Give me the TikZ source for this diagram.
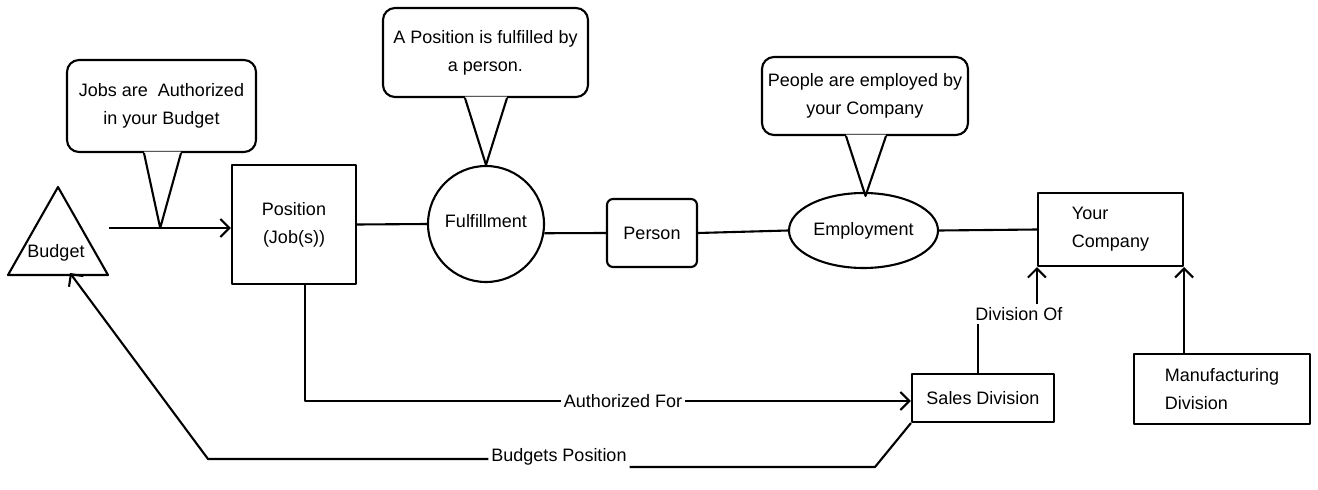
\documentclass[tikz,border=0pt]{standalone}
\usepackage{fontspec}
\setmainfont{Liberation Sans}
\usetikzlibrary{arrows.meta,shapes.geometric,calc}
\begin{document}
\begin{tikzpicture}[x=1pt,y=-1pt,line width=2.1pt,line join=round,
  every node/.style={font=\fontsize{18}{28}\selectfont,text=black},
  box/.style={draw,rectangle,inner sep=0pt,align=center},
  bubble/.style={draw,rectangle,rounded corners=12pt,inner sep=0pt,align=center,fill=white},
  lbl/.style={fill=white,inner sep=2pt},
  arr/.style={-{Straight Barb[length=9pt,width=18pt]}}]
\useasboundingbox (0,0) rectangle (1318,490);

% budget triangle
\coordinate (tA) at (58,187);
\coordinate (tL) at (8,275);
\coordinate (tR) at (108,275);
\draw (tA) -- (tL) -- (tR) -- cycle;
\node (bud) at (56,253) {Budget};

% main nodes
\node[box,minimum width=124pt,minimum height=119pt] (pos) at (294,224.5) {Position\\(Job(s))};
\node[draw,circle,minimum size=116pt,inner sep=0pt] (ful) at (486,224) {\raisebox{6pt}{Fulfillment}};
\node[box,rounded corners=6pt,minimum width=90pt,minimum height=68pt] (per) at (652,233) {Person};
\node[draw,ellipse,minimum width=149pt,minimum height=75pt,inner sep=0pt] (emp) at (863.5,230.5) {Employment};
\node[box,align=left,minimum width=145pt,minimum height=73pt] (comp) at (1110.5,229.5) {Your\\Company};
\node[box,minimum width=142pt,minimum height=48pt] (sales) at (983,398) {Sales Division};
\node[box,align=left,minimum width=176pt,minimum height=70pt] (manu) at (1222,389) {Manufacturing\\Division};

% callouts
\node[bubble,minimum width=189pt,minimum height=92pt] (b1) at (161.5,106) {Jobs are\ \ Authorized\\in your Budget};
\node[bubble,minimum width=205pt,minimum height=89pt] (b2) at (485.5,52.5) {A Position is fulfilled by\\a person.};
\node[bubble,minimum width=206pt,minimum height=78pt] (b3) at (865,96) {People are employed by\\your Company};

% budget -> position
\coordinate (a0) at (109,228);
\draw[arr] (a0) -- (a0 -| pos.west);
\coordinate (t1) at ($(a0)!0.42!(a0 -| pos.west)$);

% callout tails
\fill[white] ($(b1.south)+(-17.5,-1.5)$) -- (t1) -- ($(b1.south)+(19.5,-1.5)$) -- cycle;
\draw ($(b1.south)+(-17.5,0)$) -- (t1) -- ($(b1.south)+(19.5,0)$);
\fill[white] ($(b2.south)+(-20.5,-1.5)$) -- (ful.north) -- ($(b2.south)+(21.5,-1.5)$) -- cycle;
\draw ($(b2.south)+(-20.5,0)$) -- (ful.north) -- ($(b2.south)+(21.5,0)$);
\coordinate (t3) at ($(emp.north)+(2,4)$);
\fill[white] ($(b3.south)+(-19,-1.5)$) -- (t3) -- ($(b3.south)+(21,-1.5)$) -- cycle;
\draw ($(b3.south)+(-19,0)$) -- (t3) -- ($(b3.south)+(21,0)$);

% chain
\draw (pos.east) -- (ful.west);
\draw (ful.-9) -- (per.west);
\draw (per.east) -- (emp.west);
\draw (emp.east) -- (comp.west);

% division of
\node[lbl] (divof) at (1019,314) {Division Of};
\draw ([xshift=-5pt]sales.north) -- ([xshift=-5pt]sales.north |- divof.south);
\draw[arr] (divof.north -| comp.south west) -- (comp.south west);
\draw[arr] (manu.north -| comp.south east) -- (comp.south east);

% authorized for
\node[lbl] (af) at (623,401) {Authorized For};
\draw ([xshift=11pt]pos.south) |- (af.west);
\draw[arr] (af.east) -- (sales.west |- af.east);

% budgets position
\node[lbl] (bp) at (559,457) {Budgets Position};
\coordinate (bp1) at (875,467);
\coordinate (bp2) at (208,459);
\coordinate (bpend) at ($(tL)!0.62!(tR)$);
\draw (sales.south west) -- (bp1) -- (bp1 -| bp.east);
\draw[arr] (bp2 -| bp.west) -- (bp2) -- ([yshift=2pt]bpend);
\end{tikzpicture}
\end{document}
